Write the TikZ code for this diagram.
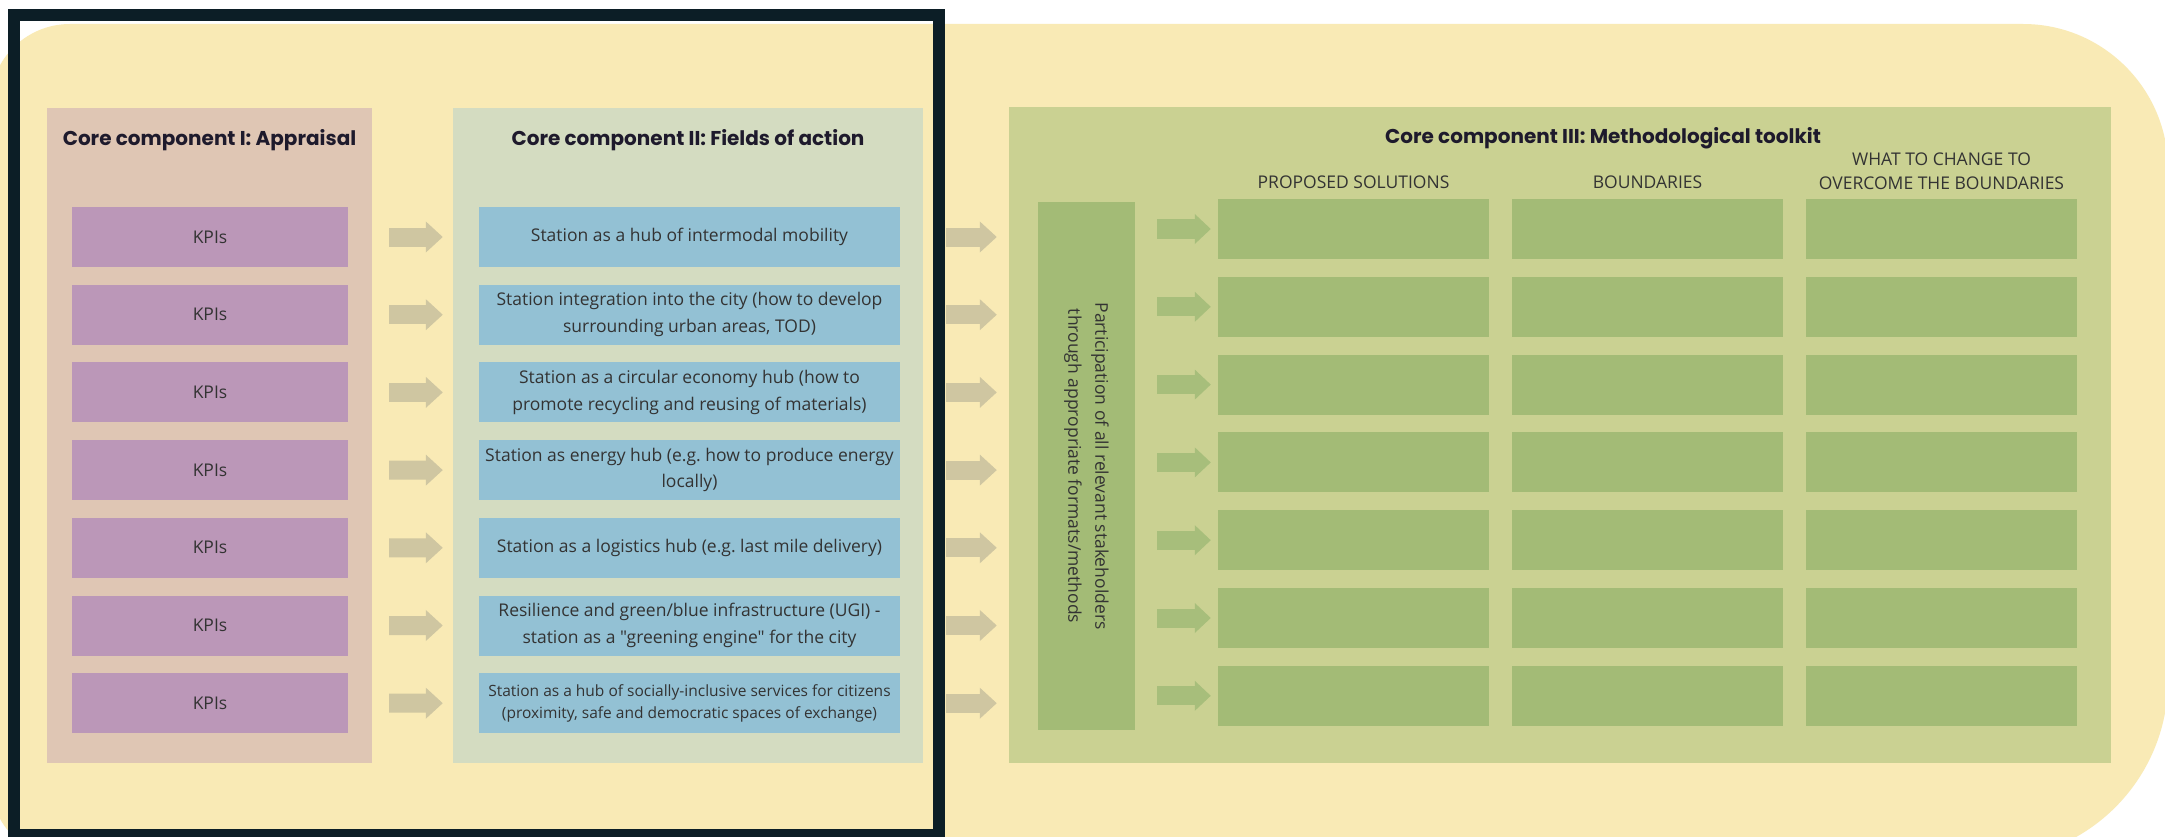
\documentclass[tikz,border=0pt]{standalone}
\usepackage{fontspec}
\setmainfont{Open Sans}[Ligatures=TeXOff]
\newfontfamily\headfont{Poppins}
\usetikzlibrary{arrows.meta}
\frenchspacing

\definecolor{bgyellow}{HTML}{F9EAB5}
\definecolor{framedark}{HTML}{0C1E26}
\definecolor{appraisalbg}{HTML}{DFC6B4}
\definecolor{kpifill}{HTML}{BB97B8}
\definecolor{fieldsbg}{HTML}{D4DCC1}
\definecolor{fieldfill}{HTML}{93C1D4}
\definecolor{toolkitbg}{HTML}{CAD192}
\definecolor{cellfill}{HTML}{A3BB76}
\definecolor{arrowtan}{HTML}{CFC6A1}
\definecolor{arrowgreen}{HTML}{A7BE7B}
\definecolor{headtext}{HTML}{1E1A2C}
\definecolor{bodytext}{HTML}{333333}

\begin{document}
\begin{tikzpicture}[x=1pt, y=-1pt]
	%define block styles
	\tikzset{
		panel/.style={rectangle, inner sep=0pt, minimum height=655pt},
		header/.style={font=\headfont\bfseries\fontsize{20}{24}\selectfont, text=headtext},
		kpi/.style={rectangle, fill=kpifill, minimum width=276pt, minimum height=60pt, font=\fontsize{17.5}{26.5}\selectfont, text=bodytext},
		field/.style={rectangle, fill=fieldfill, minimum width=421pt, minimum height=60pt, inner sep=0pt, align=center, font=\fontsize{17.5}{26.5}\selectfont, text=bodytext},
		cell/.style={rectangle, fill=cellfill, minimum width=271pt, minimum height=60pt},
		colhead/.style={align=center, font=\fontsize{17.5}{24}\selectfont, text=bodytext},
		tanarrow/.style={draw=arrowtan, line width=19pt, -{Triangle[length=17pt,width=30pt]}},
		greenarrow/.style={draw=arrowgreen, line width=19pt, -{Triangle[length=16pt,width=29pt]}},
	}
	%background and frame
	\useasboundingbox (0,0) rectangle (2165,837);
	\clip (0,0) rectangle (2165,837);
	\fill[white] (0,0) rectangle (2165,837);
	\fill[bgyellow] (70,24) -- (2023,24) arc[start angle=270, end angle=360, radius=145]
		-- (2168,680) arc[start angle=0, end angle=90, radius=180]
		-- (70,860) arc[start angle=90, end angle=180, radius=80]
		-- (-10,104) arc[start angle=180, end angle=270, radius=80] -- cycle;
	\draw[framedark, line width=12pt] (13.5,15.5) rectangle (939,835);
	%define panels
	\node[panel, fill=appraisalbg, minimum width=325pt](appraisal) at (209.5,435.5){};
	\node[panel, fill=fieldsbg, minimum width=470pt](fields) at (688,435.5){};
	\node[panel, fill=toolkitbg, minimum width=1102pt, minimum height=656pt](toolkit) at (1560,435){};
	\node[header](happraisal) at (209.5,140){Core component I: Appraisal};
	\node[header](hfields) at (688,140){Core component II: Fields of action};
	\node[header](htoolkit) at (1603,138){Core component III: Methodological toolkit};
	\node[colhead](hsol) at (1353.5,182){PROPOSED SOLUTIONS};
	\node[colhead](hbound) at (1647.5,182){BOUNDARIES};
	\node[colhead](hchange) at (1941.5,171){WHAT TO CHANGE TO\\OVERCOME THE BOUNDARIES};
	%define nodes
	\foreach \i in {1,...,7}
		\node[kpi](kpi\i) at (210,159.3+77.7*\i){KPIs};
	\node[field](field1) at (689.5,237){Station as a hub of intermodal mobility};
	\node[field](field2) at (689.5,314.7){Station integration into the city (how to develop\\surrounding urban areas, TOD)};
	\node[field](field3) at (689.5,392.4){Station as a circular economy hub (how to\\promote recycling and reusing of materials)};
	\node[field](field4) at (689.5,470.1){Station as energy hub (e.g. how to produce energy\\locally)};
	\node[field](field5) at (689.5,547.8){Station as a logistics hub (e.g. last mile delivery)};
	\node[field](field6) at (689.5,625.5){Resilience and green/blue infrastructure (UGI) -\\station as a "greening engine" for the city};
	\node[field, font=\fontsize{15.5}{22}\selectfont](field7) at (689.5,703.2){Station as a hub of socially-inclusive services for citizens\\(proximity, safe and democratic spaces of exchange)};
	\node[rectangle, fill=cellfill, minimum width=97pt, minimum height=528pt](part) at (1086.5,466){};
	\node[rotate=-90, align=center, font=\fontsize{17.5}{27}\selectfont, text=bodytext](partlabel) at (part){Participation of all relevant stakeholders\\through appropriate formats/methods};
	%define arrows
	\foreach \i in {1,...,7}{
		\draw[tanarrow, shorten <=41pt, shorten >=36pt] (kpi\i) -- (field\i);
		\draw[tanarrow, shorten <=46pt, shorten >=12pt] (field\i.east) -- (field\i.east -| toolkit.west);
		\node[cell](sol\i) at (1353.5,151.2+77.8*\i){};
		\node[cell](bound\i) at (1647.5,151.2+77.8*\i){};
		\node[cell](change\i) at (1941.5,151.2+77.8*\i){};
		\draw[greenarrow, shorten <=22pt, shorten >=7pt] (part.east |- sol\i) -- (sol\i);
	}
\end{tikzpicture}
\end{document}
